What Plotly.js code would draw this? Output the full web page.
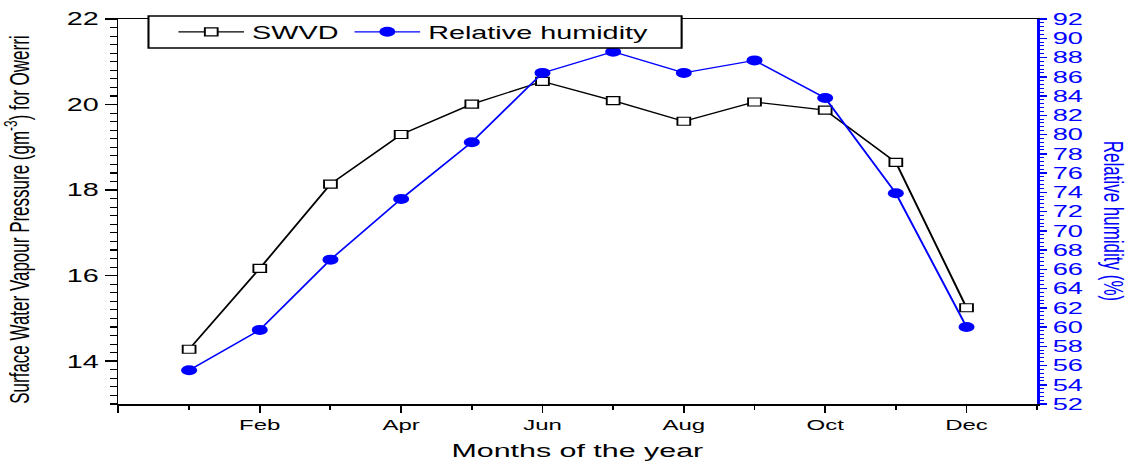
<!DOCTYPE html>
<html>
<head>
<meta charset="utf-8">
<script src="https://cdn.plot.ly/plotly-3.0.1.min.js"></script>
<style>
html,body{margin:0;padding:0;background:#fff;overflow:hidden;width:1138px;height:462px;}
#chart{width:711px;height:462px;transform:scaleX(1.6006);transform-origin:0 0;}
</style>
</head>
<body>
<div id="chart"></div>
<script>
const months = ['Jan','Feb','Mar','Apr','May','Jun','Jul','Aug','Sep','Oct','Nov','Dec'];
const swvd = [14.28, 16.17, 18.14, 19.30, 20.01, 20.54, 20.09, 19.61, 20.06, 19.87, 18.65, 15.25];
const relHumidity = [55.5, 59.7, 67.0, 73.3, 79.2, 86.4, 88.6, 86.4, 87.7, 83.8, 73.9, 60.0];
const xTickVals = [0, 2, 4, 6, 8, 10, 12];
const xTickText = ['', 'Feb', 'Apr', 'Jun', 'Aug', 'Oct', 'Dec'];
const xMinorVals = [1, 3, 5, 7, 9, 11, 13];

const xPos = months.map((m, i) => i + 1);

const traces = [
  {
    x: xPos, y: swvd, name: 'SWVD', type: 'scatter', mode: 'lines+markers',
    text: months, yaxis: 'y',
    line: {color: 'black', width: 1.3},
    marker: {symbol: 'square', size: 8, color: 'white', line: {color: 'black', width: 1.2}}
  },
  {
    x: xPos, y: relHumidity, name: 'Relative humidity', type: 'scatter', mode: 'lines+markers',
    text: months, yaxis: 'y2',
    line: {color: 'blue', width: 1.3},
    marker: {symbol: 'circle', size: 10, color: 'blue'}
  }
];

const layout = {
  width: 711, height: 462,
  margin: {l: 73.7, r: 63.1, t: 19, b: 58, pad: 0},
  paper_bgcolor: 'white', plot_bgcolor: 'white',
  font: {family: 'Liberation Sans, Arial, sans-serif', color: 'black'},
  showlegend: true,
  legend: {
    orientation: 'h', x: 0.0566, y: 0.966, xanchor: 'left', yanchor: 'middle',
    bgcolor: 'rgba(0,0,0,0)', borderwidth: 0, itemwidth: 41,
    font: {size: 18, color: 'black'}
  },
  shapes: [
    {type: 'rect', xref: 'paper', yref: 'paper', x0: 0.0327, x1: 0.613, y0: 0.9247, y1: 1.0078,
     fillcolor: 'white', line: {color: 'black', width: 1.3}, layer: 'above'}
  ],
  xaxis: {
    range: [0, 13], tickmode: 'array', tickvals: xTickVals, ticktext: xTickText,
    ticks: 'outside', ticklen: 7, tickwidth: 1.2, tickcolor: 'black',
    showline: true, linecolor: 'black', linewidth: 1.5, mirror: true,
    showgrid: false, zeroline: false, tickfont: {size: 15},
    minor: {tickmode: 'array', tickvals: xMinorVals, ticks: 'outside', ticklen: 4, tickwidth: 1.2, tickcolor: 'black'}
  },
  yaxis: {
    range: [13, 22], tickmode: 'linear', tick0: 14, dtick: 2,
    ticks: 'outside', ticklen: 7.5, tickwidth: 1.5, tickcolor: 'black',
    showline: true, linecolor: 'black', linewidth: 1.2,
    showgrid: false, zeroline: false, tickfont: {size: 18},
    minor: {dtick: 0.2, tick0: 14, ticks: 'outside', ticklen: 3.8, tickwidth: 1.2, tickcolor: 'black'}
  },
  yaxis2: {
    overlaying: 'y', side: 'right', range: [52, 92], tickmode: 'linear', tick0: 52, dtick: 2,
    ticks: 'outside', ticklen: 4.5, tickwidth: 1.5, tickcolor: 'blue',
    showline: true, linecolor: 'blue', linewidth: 1.8,
    showgrid: false, zeroline: false, tickfont: {size: 17, color: 'blue'},
    minor: {dtick: 0.4, tick0: 52, ticks: 'outside', ticklen: 2.5, tickwidth: 1, tickcolor: 'blue'}
  },
  annotations: [
    {
      text: 'Surface Water Vapour Pressure (gm<sup>-3</sup>) for Owerri',
      xref: 'paper', yref: 'paper', x: -0.11, y: 0.4805, xanchor: 'center', yanchor: 'middle',
      textangle: -90, showarrow: false, font: {size: 17, color: 'black'}
    },
    {
      text: 'Relative humidity (%)',
      xref: 'paper', yref: 'paper', x: 1.0827, y: 0.475, xanchor: 'center', yanchor: 'middle',
      textangle: 90, showarrow: false, font: {size: 17, color: 'blue'}
    },
    {
      text: 'Months of the year',
      xref: 'paper', yref: 'paper', x: 0.5, y: -0.122, xanchor: 'center', yanchor: 'middle',
      showarrow: false, font: {size: 19, color: 'black'}
    }
  ]
};

Plotly.newPlot('chart', traces, layout, {displayModeBar: false, staticPlot: true});
</script>
</body>
</html>
